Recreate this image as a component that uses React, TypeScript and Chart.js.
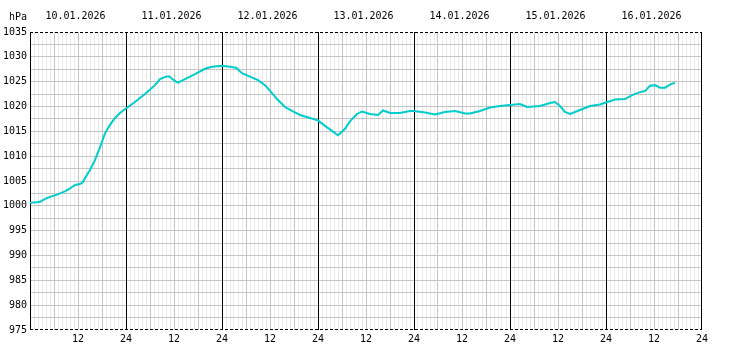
import React, { useEffect, useRef } from "react";
import { Chart, registerables } from "chart.js";

Chart.register(...registerables);

const hours: number[] = [
  0, 1.5, 2.5, 3.75, 5, 6.25, 7.5, 8.75, 10, 11.25, 12.5, 13.25, 13.75, 15, 16.25, 17.5, 18.75, 20, 21.25, 22.5,
  24, 26.25, 28.75, 31.25, 32.5, 34, 34.75, 35.5, 36.5, 37, 38.75, 41.25, 43.75, 45.5,
  48, 50, 51.5, 53, 55, 57, 58.75, 60.5, 62, 63.75, 65.5, 67.5, 70,
  72, 73.75, 75.5, 77, 78.75, 80, 81.75, 83, 85, 87, 88.25, 90, 92.5, 95,
  96, 98.75, 101.25, 103.75, 106.25, 108.75, 110, 112.5, 115, 117.5,
  120, 122.5, 124.25, 127.5, 130, 131.25, 132.5, 133.75, 135, 136.25, 138.75, 140, 142.5,
  144, 146.25, 148.75, 150.5, 152.5, 153.75, 155, 156.25, 157.5, 158.75, 160, 161.25,
];

const pressure: number[] = [
  1000.6, 1000.7, 1000.8, 1001.4, 1001.8, 1002.1, 1002.5, 1002.9, 1003.5, 1004.2, 1004.4, 1004.8, 1005.6, 1007.2, 1009.2, 1011.8, 1014.6, 1016.3, 1017.7, 1018.7,
  1019.6, 1020.9, 1022.5, 1024.3, 1025.5, 1026.0, 1026.1, 1025.6, 1025.0, 1024.8, 1025.5, 1026.5, 1027.6, 1028.0,
  1028.2, 1028.0, 1027.8, 1026.7, 1026.0, 1025.3, 1024.3, 1022.7, 1021.3, 1019.9, 1019.1, 1018.3, 1017.7,
  1017.2, 1016.1, 1015.1, 1014.2, 1015.5, 1017.0, 1018.5, 1019.0, 1018.5, 1018.3, 1019.2, 1018.7, 1018.7, 1019.1,
  1019.1, 1018.8, 1018.4, 1018.9, 1019.1, 1018.6, 1018.6, 1019.1, 1019.8, 1020.1,
  1020.3, 1020.5, 1019.9, 1020.1, 1020.7, 1020.9, 1020.1, 1018.9, 1018.5, 1018.9, 1019.7, 1020.1, 1020.4,
  1020.8, 1021.4, 1021.5, 1022.3, 1022.9, 1023.1, 1024.2, 1024.3, 1023.8, 1023.8, 1024.4, 1024.8,
];

const dayLabels: string[] = [
  "10.01.2026", "11.01.2026", "12.01.2026", "13.01.2026", "14.01.2026", "15.01.2026", "16.01.2026",
];

const unitLabel = "hPa";
const yMin = 975;
const yMax = 1035;
const hourMax = 168;

const FONT = "'DejaVu Sans Mono', monospace";

const framePlugin = {
  id: "frame",
  beforeDatasetsDraw(chart: any) {
    const { ctx, chartArea } = chart;
    const xs = chart.scales.x;
    ctx.save();
    ctx.strokeStyle = "#000";
    ctx.lineWidth = 1;
    ctx.beginPath();
    for (let h = 0; h <= hourMax; h += 24) {
      const px = Math.round(xs.getPixelForValue(h)) + 0.5;
      const x = Math.min(px, chartArea.right - 0.5);
      ctx.moveTo(x, chartArea.top);
      ctx.lineTo(x, chartArea.bottom);
    }
    ctx.stroke();
    ctx.setLineDash([3, 2]);
    ctx.beginPath();
    ctx.moveTo(chartArea.left, chartArea.top + 0.5);
    ctx.lineTo(chartArea.right, chartArea.top + 0.5);
    ctx.moveTo(chartArea.left, chartArea.bottom - 0.5);
    ctx.lineTo(chartArea.right, chartArea.bottom - 0.5);
    ctx.stroke();
    ctx.restore();
  },
  afterDraw(chart: any) {
    const { ctx, chartArea } = chart;
    ctx.save();
    ctx.fillStyle = "#000";
    ctx.font = "10px " + FONT;
    ctx.textAlign = "right";
    ctx.textBaseline = "middle";
    ctx.fillText(unitLabel, chartArea.left - 3, 17);
    ctx.restore();
  },
};

export default function App() {
  const ref = useRef<HTMLCanvasElement | null>(null);

  useEffect(() => {
    document.body.style.margin = "0";
    const canvas = ref.current;
    if (!canvas) return;
    const chart = new Chart(canvas, {
      type: "line",
      data: {
        datasets: [
          {
            data: hours.map((h, i) => ({ x: h, y: pressure[i] })),
            borderColor: "#00cccc",
            borderWidth: 2,
            pointRadius: 0,
            tension: 0,
            fill: false,
          },
        ],
      },
      options: {
        animation: false,
        responsive: false,
        maintainAspectRatio: false,
        layout: { padding: { left: 0, right: 30, top: 0, bottom: 0 } },
        plugins: { legend: { display: false }, tooltip: { enabled: false } },
        scales: {
          x: {
            type: "linear",
            position: "bottom",
            min: 0,
            max: hourMax,
            afterFit: (s: any) => {
              s.height = 30;
            },
            afterBuildTicks: (s: any) => {
              const t = [];
              for (let h = 0; h <= hourMax; h++) t.push({ value: h });
              s.ticks = t;
            },
            ticks: {
              autoSkip: false,
              maxRotation: 0,
              padding: 3,
              color: "#000",
              font: { family: FONT, size: 10 },
              callback: (v: any) => {
                const n = Number(v);
                if (n === 0 || n % 12 !== 0) return "";
                return n % 24 === 0 ? "24" : "12";
              },
            },
            grid: {
              drawTicks: false,
              color: (c: any) => {
                const v = c.tick ? c.tick.value : 0;
                if (v % 24 === 0) return "rgba(0,0,0,0)";
                if (v % 6 === 0) return "#c4c4c4";
                return "#ebebeb";
              },
            },
            border: { display: false },
          },
          xTop: {
            type: "linear",
            position: "top",
            min: 0,
            max: hourMax,
            afterFit: (s: any) => {
              s.height = 32;
            },
            afterBuildTicks: (s: any) => {
              s.ticks = dayLabels.map((_, i) => ({ value: 12 + 24 * i }));
            },
            ticks: {
              autoSkip: false,
              maxRotation: 0,
              padding: 10,
              labelOffset: -2.5,
              color: "#000",
              font: { family: FONT, size: 10 },
              callback: (v: any) => dayLabels[Math.round((Number(v) - 12) / 24)] ?? "",
            },
            grid: { display: false, drawTicks: false },
            border: { display: false },
          },
          y: {
            type: "linear",
            min: yMin,
            max: yMax,
            afterFit: (s: any) => {
              s.width = 30;
            },
            afterBuildTicks: (s: any) => {
              const t = [];
              for (let v = yMin; v <= yMax + 0.001; v += 2.5) t.push({ value: v });
              s.ticks = t;
            },
            ticks: {
              autoSkip: false,
              padding: 3,
              color: "#000",
              font: { family: FONT, size: 10 },
              callback: (v: any) => {
                const n = Number(v);
                return Math.abs(n % 5) < 0.001 ? String(n) : "";
              },
            },
            grid: {
              drawTicks: false,
              color: (c: any) => {
                const v = c.tick ? c.tick.value : 0;
                if (v === yMin || v === yMax) return "rgba(0,0,0,0)";
                return "#c4c4c4";
              },
            },
            border: { display: false },
          },
        },
      },
      plugins: [framePlugin],
    });
    return () => chart.destroy();
  }, []);

  return (
    <div style={{ position: "absolute", left: 0, top: 0, width: 732, height: 360, background: "#fff" }}>
      <canvas ref={ref} width={732} height={360} style={{ width: 732, height: 360 }} />
    </div>
  );
}
